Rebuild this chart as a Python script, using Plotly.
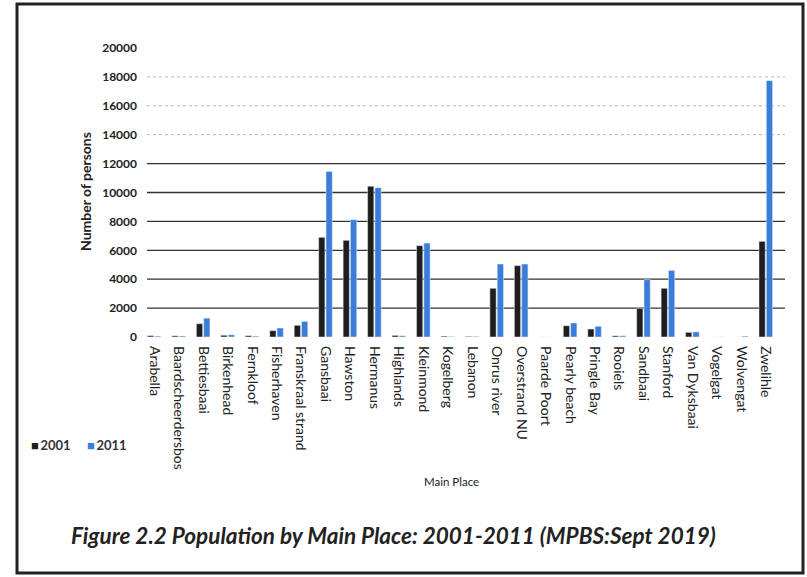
import plotly.graph_objects as go

places = ["Arabella", "Baardscheerdersbos", "Bettiesbaai", "Birkenhead", "Fernkloof",
          "Fisherhaven", "Franskraal strand", "Gansbaai", "Hawston", "Hermanus",
          "Highlands", "Kleinmond", "Kogelberg", "Lebanon", "Onrus river",
          "Overstrand NU", "Paarde Poort", "Pearly beach", "Pringle Bay", "Rooiels",
          "Sandbaai", "Stanford", "Van Dyksbaai", "Vogelgat", "Wolvengat", "Zwelihle"]
pop_2001 = [90, 80, 920, 120, 90, 440, 810, 6900, 6690, 10430,
            110, 6320, 60, 40, 3370, 4940, 0, 780, 550, 80,
            1980, 3370, 320, 0, 0, 6620]
pop_2011 = [60, 70, 1300, 150, 60, 620, 1080, 11460, 8120, 10330,
            80, 6500, 30, 40, 5050, 5050, 0, 970, 740, 80,
            3970, 4610, 350, 0, 60, 17740]
series_names = ["2001", "2011"]
series_colors = ["#1e1e1e", "#3b7ddb"]
solid_grid = [2000, 4000, 6000, 8000, 10000, 12000]
faint_grid = [14000, 16000, 18000]
y_ticks = [0, 2000, 4000, 6000, 8000, 10000, 12000, 14000, 16000, 18000, 20000]
y_tick_text = [str(v) for v in y_ticks]

W, H = 807, 577
L, R, T, B = 142, 778, 48, 337
FONT = "Lato"


def px(x):
    return (x - L) / (R - L)


def py(y):
    return (B - y) / (B - T)


fig = go.Figure()
for name, vals, col in zip(series_names, [pop_2001, pop_2011], series_colors):
    fig.add_trace(go.Bar(x=places, y=vals, name=name, marker_color=col, showlegend=False))

shapes = []
for v in solid_grid:
    shapes.append(dict(type="line", xref="paper", yref="y", x0=px(147), x1=px(785),
                       y0=v, y1=v, line=dict(color="#333333", width=1.3), layer="below"))
for v in faint_grid:
    shapes.append(dict(type="line", xref="paper", yref="y", x0=px(147), x1=px(785),
                       y0=v, y1=v, line=dict(color="#b5b5b5", width=1, dash="dot"), layer="below"))
# outer frame of the figure
shapes.append(dict(type="rect", xref="paper", yref="paper", x0=px(17), x1=px(803),
                   y0=py(573), y1=py(4), line=dict(color="#222222", width=3)))

legend_text = "\u2003\u2002".join(
    f"<span style='color:{c}'>■</span>\u2009{n}" for n, c in zip(series_names, series_colors))

annotations = [
    dict(text="Number of persons", xref="paper", yref="paper", x=px(85), y=py(192),
         xanchor="center", yanchor="middle",
         textangle=-90, showarrow=False, font=dict(family=FONT, size=14, color="#222222", weight="bold")),
    dict(text="Main Place", xref="paper", yref="paper", x=px(451), y=py(490),
         showarrow=False, font=dict(family=FONT, size=11.5, color="#222222")),
    dict(text=legend_text, xref="paper", yref="paper", x=px(29), y=py(455),
         xanchor="left", showarrow=False, font=dict(family=FONT, size=13, color="#333333", weight="bold")),
    dict(text="<i>Figure 2.2 Population by Main Place: 2001-2011 (MPBS:Sept 2019)</i>",
         xref="paper", yref="paper", x=px(393), y=py(551), showarrow=False,
         font=dict(family=FONT, size=22.5, color="#222222", weight="bold")),
]

fig.update_layout(
    width=W, height=H,
    margin=dict(l=L, r=W - R, t=T, b=H - B, pad=0),
    paper_bgcolor="white", plot_bgcolor="white",
    barmode="group", bargap=0.4, bargroupgap=0.15,
    font=dict(family=FONT, color="#222222"),
    showlegend=False,
    xaxis=dict(tickangle=90, tickfont=dict(family=FONT, size=14, color="#222222"),
               showgrid=False, showline=False, zeroline=False, ticks="", ticklabelstandoff=8),
    yaxis=dict(range=[0, 20000], tickvals=y_ticks, ticktext=y_tick_text, showgrid=False,
               zeroline=False, showline=False,
               tickfont=dict(family=FONT, size=12, color="#222222", weight="bold"),
               ticklabelstandoff=4),
    shapes=shapes, annotations=annotations,
)

fig.write_html("out.html")
